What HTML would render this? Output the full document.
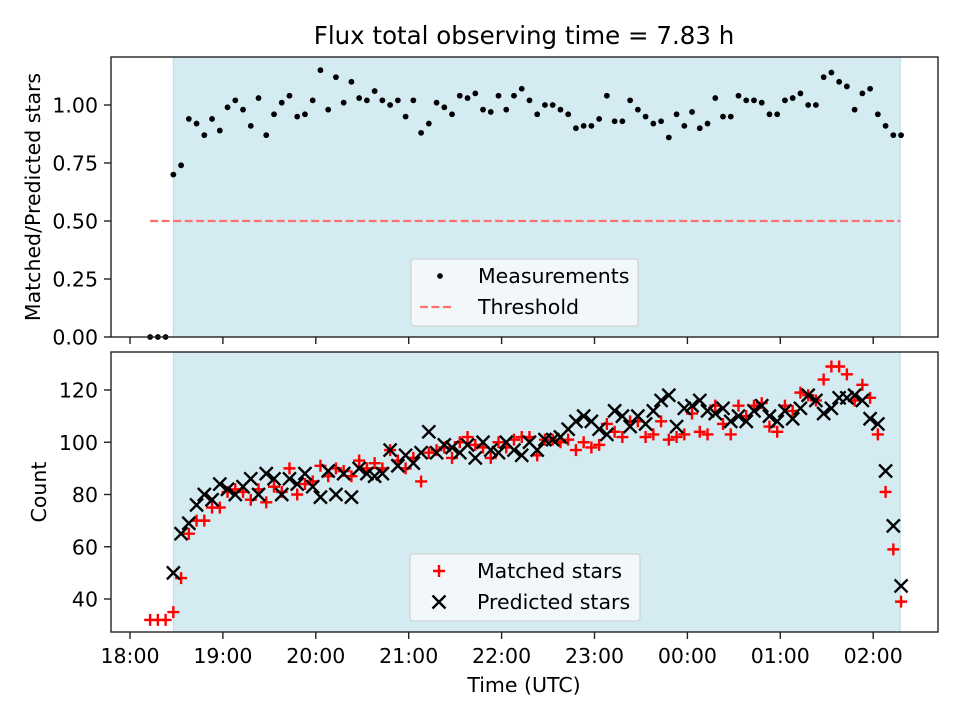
<!DOCTYPE html>
<html><head><meta charset="utf-8"><style>
body{margin:0;background:#fff}
svg{font-family:"DejaVu Sans","Liberation Sans",sans-serif}
</style></head><body>
<svg id="c" width="960" height="720" viewBox="0 0 960 720" xmlns="http://www.w3.org/2000/svg"></svg>
<script>
const startMin = 28, stepMin = 5;
const zeroTimes = [13, 18, 23];
const zeroMatched = [32, 32, 32];
const ratio = [0.70,0.74,0.94,0.92,0.87,0.94,0.89,0.99,1.02,0.98,0.91,1.03,0.87,0.96,1.01,1.04,0.95,0.96,1.02,1.15,0.98,1.12,1.01,1.10,1.03,1.02,1.06,1.02,1.00,1.02,0.95,1.02,0.88,0.92,1.01,0.99,0.96,1.04,1.03,1.05,0.98,0.97,1.04,0.98,1.04,1.07,1.02,0.96,1.00,1.00,0.98,0.96,0.90,0.91,0.91,0.94,1.04,0.93,0.93,1.02,0.98,0.95,0.92,0.93,0.86,0.96,0.91,0.97,0.90,0.92,1.03,0.95,0.95,1.04,1.02,1.02,1.01,0.96,0.96,1.02,1.03,1.05,1.00,1.00,1.12,1.14,1.10,1.08,0.98,1.05,1.07,0.96,0.91,0.87,0.87];
const predicted = [50,65,69,76,80,78,84,82,80,83,86,80,88,86,80,86,84,88,83,79,89,80,88,79,90,88,87,88,97,91,95,92,96,104,96,99,98,96,99,94,100,97,96,100,97,95,100,97,101,101,102,105,108,110,108,105,103,112,110,106,110,107,112,116,118,106,113,114,116,112,111,113,108,110,108,112,114,110,108,112,109,113,118,116,111,113,117,117,118,116,109,107,89,68,45];
const matched = [35,48,65,70,70,75,75,81,82,81,78,82,77,83,81,90,80,84,85,91,87,90,89,87,93,90,92,90,97,93,90,94,85,96,97,98,94,100,102,99,98,94,100,98,101,102,102,95,101,101,100,101,97,100,98,99,107,104,102,108,108,102,103,108,101,102,103,111,104,103,114,107,103,114,110,114,115,106,104,114,112,119,118,116,124,129,129,126,116,122,117,103,81,59,39];
const xTicks = ["18:00","19:00","20:00","21:00","22:00","23:00","00:00","01:00","02:00"];
const yTopTicks = [0, 0.25, 0.5, 0.75, 1.0];
const yBotTicks = [40, 60, 80, 100, 120];
const spanMin = [28, 497.5];
const threshold = 0.5;

const svg = document.getElementById('c');
const NS = 'http://www.w3.org/2000/svg';
function mk(tag, attrs, parent){const e=document.createElementNS(NS,tag);for(const k in attrs)e.setAttribute(k,attrs[k]);(parent||svg).appendChild(e);return e;}
const L=111,R=938;
const X = m => 130 + m*(92.9/60);
const topT=57, topB=337, botT=352, botB=632;
const Yt = v => 337 - v*232;
const Yb = v => 599 - (v-40)*(209/80);
const FS = 20.5;

let t=mk('text',{x:524,y:44,'text-anchor':'middle','font-size':'24.5'});t.textContent='Flux total observing time = 7.83 h';


function axesBox(top,bot,name){
  const g=mk('g',{});
  
  const s=mk('rect',{x:X(spanMin[0]),y:top,width:X(spanMin[1])-X(spanMin[0]),height:bot-top,fill:'#d4ebf1',stroke:'#b9dde6','stroke-width':1},g);
  
  return g;
}
const gTop=axesBox(topT,topB,'top-axes');
const gBot=axesBox(botT,botB,'bottom-axes');

const th=mk('line',{x1:X(13),x2:X(497.5),y1:Yt(threshold),y2:Yt(threshold),stroke:'#ff7070','stroke-width':2.2,'stroke-dasharray':'8,3.5'},gTop);


zeroTimes.forEach(m=>{const c=mk('circle',{cx:X(m),cy:Yt(0),r:2.9,fill:'#000'},gTop);});
ratio.forEach((v,i)=>{const c=mk('circle',{cx:X(startMin+i*stepMin),cy:Yt(v),r:2.9,fill:'#000'},gTop);});

function plus(x,y,g){const p=mk('path',{d:`M${x-6},${y}H${x+6}M${x},${y-6}V${y+6}`,stroke:'#f00','stroke-width':2.4},g);}
function cross(x,y,g){const p=mk('path',{d:`M${x-6.5},${y-6.5}L${x+6.5},${y+6.5}M${x-6.5},${y+6.5}L${x+6.5},${y-6.5}`,stroke:'#000','stroke-width':2.4},g);}
zeroTimes.forEach((m,i)=>plus(X(m),Yb(zeroMatched[i]),gBot));
matched.forEach((v,i)=>plus(X(startMin+i*stepMin),Yb(v),gBot));
predicted.forEach((v,i)=>cross(X(startMin+i*stepMin),Yb(v),gBot));

[[topT,topB],[botT,botB]].forEach(([a,b])=>{const r=mk('rect',{x:L,y:a,width:R-L,height:b-a,fill:'none',stroke:'#222','stroke-width':1.4});});

xTicks.forEach((lab,i)=>{
  const x=X(i*60);
  mk('line',{x1:x,x2:x,y1:topB,y2:topB+7,stroke:'#222','stroke-width':1.4});
  mk('line',{x1:x,x2:x,y1:botB,y2:botB+7,stroke:'#222','stroke-width':1.4});
  const tx=mk('text',{x:x,y:663,'text-anchor':'middle','font-size':FS});tx.textContent=lab;
  
});
yTopTicks.forEach(v=>{const y=Yt(v);mk('line',{x1:L-7,x2:L,y1:y,y2:y,stroke:'#222','stroke-width':1.4});const tx=mk('text',{x:L-13,y:y+7.5,'text-anchor':'end','font-size':FS});tx.textContent=v.toFixed(2);});
yBotTicks.forEach(v=>{const y=Yb(v);mk('line',{x1:L-7,x2:L,y1:y,y2:y,stroke:'#222','stroke-width':1.4});const tx=mk('text',{x:L-13,y:y+7.5,'text-anchor':'end','font-size':FS});tx.textContent=v;});

let xt=mk('text',{x:524,y:692,'text-anchor':'middle','font-size':FS});xt.textContent='Time (UTC)';
let y1=mk('text',{x:0,y:0,'text-anchor':'middle','font-size':FS,transform:`translate(40,197) rotate(-90)`});y1.textContent='Matched/Predicted stars';
let y2=mk('text',{x:0,y:0,'text-anchor':'middle','font-size':FS,transform:`translate(46,492) rotate(-90)`});y2.textContent='Count';

function legend(x,y,w,h,items,name){
  const g=mk('g',{});
  mk('rect',{x:x,y:y,width:w,height:h,rx:3,fill:'#f7fafc',stroke:'#ccc','stroke-width':1,'fill-opacity':0.85},g);
  items.forEach((it,i)=>{
    const cy=y+17+i*31;
    it.draw(x+29,cy,g);
    const tx=mk('text',{x:x+67,y:cy+7,'font-size':FS},g);tx.textContent=it.label;
    
  });
}
legend(411,259,227,67,[
  {label:'Measurements',draw:(x,y,g)=>mk('circle',{cx:x,cy:y,r:2.9,fill:'#000'},g)},
  {label:'Threshold',draw:(x,y,g)=>mk('line',{x1:x-20,x2:x+14,y1:y,y2:y,stroke:'#ff7070','stroke-width':2.2,'stroke-dasharray':'8,3.5'},g)}
],'top-legend');
legend(410,554,230,67,[
  {label:'Matched stars',draw:(x,y,g)=>plus(x,y,g)},
  {label:'Predicted stars',draw:(x,y,g)=>cross(x,y,g)}
],'bottom-legend');
</script>
</body></html>
